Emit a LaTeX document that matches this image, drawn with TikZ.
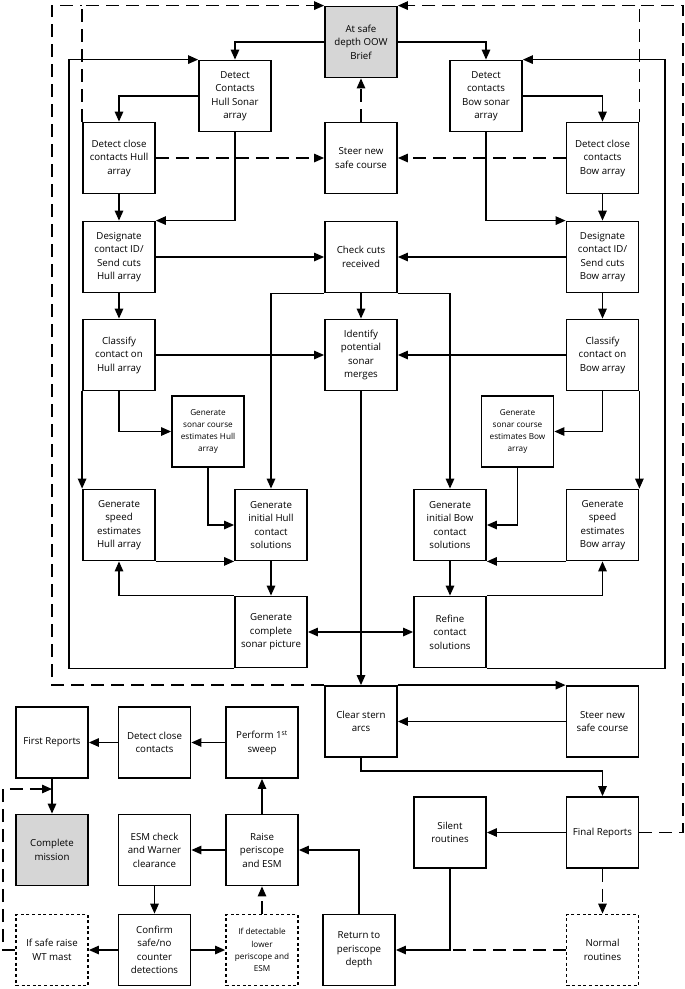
\documentclass[tikz,border=0pt]{standalone}
\usepackage{fontspec}
\setmainfont{Open Sans}
\usetikzlibrary{arrows.meta}
\begin{document}
\begin{tikzpicture}[x=1pt,y=-1pt,
 box/.style={draw, line width=1.8pt, minimum width=72pt, minimum height=71pt, inner sep=1pt, align=center, font=\fontsize{9.7}{13.5}\selectfont},
 gbox/.style={box, fill=black!16},
 dbox/.style={box, dash pattern=on 3pt off 2.6pt},
 small/.style={font=\fontsize{8.2}{12.2}\selectfont},
 con/.style={line width=1.3pt, -{Triangle[length=10pt,width=8.5pt]}},
 dcon/.style={con, dash pattern=on 13pt off 7pt},
 dline/.style={line width=1.3pt, dash pattern=on 13pt off 7pt},
 dbl/.style={line width=1.3pt, {Triangle[length=10pt,width=8.5pt]}-{Triangle[length=10pt,width=8.5pt]}},
]
\useasboundingbox (0,0) rectangle (685,989);
% nodes
\node[gbox] (gray) at (361,42) {At safe\\depth OOW\\Brief};
\node[box] (dhull) at (235,96) {Detect\\Contacts\\Hull Sonar\\array};
\node[box] (dbow) at (486,96) {Detect\\contacts\\Bow sonar\\array};
\node[box] (dchull) at (119,158) {Detect close\\contacts Hull\\array};
\node[box] (steer1) at (361,158) {Steer new\\safe course};
\node[box] (dcbow) at (602.5,158) {Detect close\\contacts\\Bow array};
\node[box] (deshull) at (119,257) {Designate\\contact ID/\\Send cuts\\Hull array};
\node[box] (check) at (361,257) {Check cuts\\received};
\node[box] (desbow) at (602.5,257) {Designate\\contact ID/\\Send cuts\\Bow array};
\node[box] (clhull) at (119,355) {Classify\\contact on\\Hull array};
\node[box] (ident) at (361,355) {Identify\\potential\\sonar\\merges};
\node[box] (clbow) at (602.5,355) {Classify\\contact on\\Bow array};
\node[box,small] (schull) at (208,431.5) {Generate\\sonar course\\estimates Hull\\array};
\node[box,small] (scbow) at (517.5,431.5) {Generate\\sonar course\\estimates Bow\\array};
\node[box] (sphull) at (119,525) {Generate\\speed\\estimates\\Hull array};
\node[box] (ginhull) at (271,525) {Generate\\initial Hull\\contact\\solutions};
\node[box] (ginbow) at (450,525) {Generate\\initial Bow\\contact\\solutions};
\node[box] (spbow) at (602.5,525) {Generate\\speed\\estimates\\Bow array};
\node[box] (gcomp) at (271,632) {Generate\\complete\\sonar picture};
\node[box] (refine) at (450,632) {Refine\\contact\\solutions};
\node[box] (clear) at (361,721.5) {Clear stern\\arcs};
\node[box] (steer2) at (602.5,721.5) {Steer new\\safe course};
\node[box] (first) at (52,742.5) {First Reports};
\node[box] (dcc) at (154.5,742.5) {Detect close\\contacts};
\node[box] (perf) at (262,742.5) {Perform 1\textsuperscript{st}\\sweep};
\node[gbox] (compl) at (52,850) {Complete\\mission};
\node[box] (esm) at (154.5,850) {ESM check\\and Warner\\clearance};
\node[box] (raise) at (262,850) {Raise\\periscope\\and ESM};
\node[box] (silent) at (450,832.5) {Silent\\routines};
\node[box] (final) at (602.5,832.5) {Final Reports};
\node[dbox] (ifsafe) at (52,950) {If safe raise\\WT mast};
\node[box] (conf) at (154.5,950) {Confirm\\safe/no\\counter\\detections};
\node[dbox,small] (ifdet) at (262,950) {If detectable\\lower\\periscope and\\ESM};
\node[box] (ret) at (359,950) {Return to\\periscope\\depth};
\node[dbox] (normal) at (602.5,950) {Normal\\routines};
% helper coordinates
\coordinate (ol) at (52,0);
\coordinate (or) at (683,0);
\coordinate (lx) at (69,0);
\coordinate (rx) at (665,0);
\coordinate (lj) at (3,789);
% top part
\draw[con] (gray.west) -| (dhull.north);
\draw[con] (gray.east) -| (dbow.north);
\draw[dcon] (steer1.north) -- (gray.south);
\draw[con] (dhull.west) -| (dchull.north);
\draw[con] (dhull.south) |- (deshull.north east);
\draw[con] (dchull) -- (deshull);
\draw[dcon] (dchull.east) -- (steer1.west);
\draw[dcon] (dcbow.west) -- (steer1.east);
\draw[con] (dbow.east) -| (dcbow.north);
\draw[con] (dbow.south) |- (desbow.north west);
\draw[con] (dcbow) -- (desbow);
\draw[con] (deshull.east) -- (check.west);
\draw[con] (desbow.west) -- (check.east);
\draw[con] (check) -- (ident);
\draw[con] (check.south west) -| (ginhull.north);
\draw[con] (check.south east) -| (ginbow.north);
\draw[con] (deshull) -- (clhull);
\draw[con] (desbow) -- (clbow);
\draw[con] (clhull.east) -- (ident.west);
\draw[con] (clbow.west) -- (ident.east);
\draw[con] (clhull.south) |- (schull.west);
\draw[con] (clhull.south west) -- (sphull.north west);
\draw[con] (clbow.south) |- (scbow.east);
\draw[con] (clbow.south east) -- (spbow.north east);
\draw[con] (schull.south) |- (ginhull.west);
\draw[con] (scbow.south) |- (ginbow.east);
\draw[con] (sphull.south east) -- (ginhull.south west);
\draw[con] (spbow.south west) -- (ginbow.south east);
\draw[con] (ginhull) -- (gcomp);
\draw[con] (ginbow) -- (refine);
\draw[con] (gcomp.north west) -| (sphull.south);
\draw[con] (refine.north east) -| (spbow.south);
\draw[dbl] (gcomp) -- (refine);
\draw[con] (ident.south) -- (clear.north);
\draw[con] (gcomp.south west) -- (gcomp.south west -| lx) -- (dhull.north west -| lx) -- (dhull.north west);
\draw[con] (refine.south east) -- (refine.south east -| rx) -- (dbow.north east -| rx) -- (dbow.north east);
% outer dashed loops
\draw[dcon] (dchull.north west) |- (gray.north west);
\draw[dcon] (dcbow.north east) |- (gray.north east);
\draw[dline] (clear.north west) -- (clear.north west -| ol) -- (ol |- gray.north west) -- (dchull.north west |- gray.north west);
\draw[dline] (final.east) -- (final.east -| or) -- (or |- gray.north east) -- (dcbow.north east |- gray.north east);
% lower part
\draw[con] (clear.north east) -- (steer2.north west);
\draw[con] (steer2.west) -- (clear.east);
\draw[con] (clear.south) -- ++(0,13) -| (final.north);
\draw[con] (final.west) -- (silent.east);
\draw[dcon] (final.south) -- (normal.north);
\draw[con] (silent.south) |- (ret.east);
\draw[dline] (normal.west) -- (normal.west -| silent.south);
\draw[con] (ret.north) |- (raise.east);
\draw[con] (raise) -- (perf);
\draw[con] (raise) -- (esm);
\draw[con] (perf) -- (dcc);
\draw[con] (dcc) -- (first);
\draw[con] (first) -- (compl);
\draw[con] (esm) -- (conf);
\draw[con] (conf) -- (ifsafe);
\draw[con] (conf) -- (ifdet);
\draw[dcon] (ifdet) -- (raise);
\draw[dcon] (ifsafe.west) -| (lj) -- (lj -| first.south);
\end{tikzpicture}
\end{document}
